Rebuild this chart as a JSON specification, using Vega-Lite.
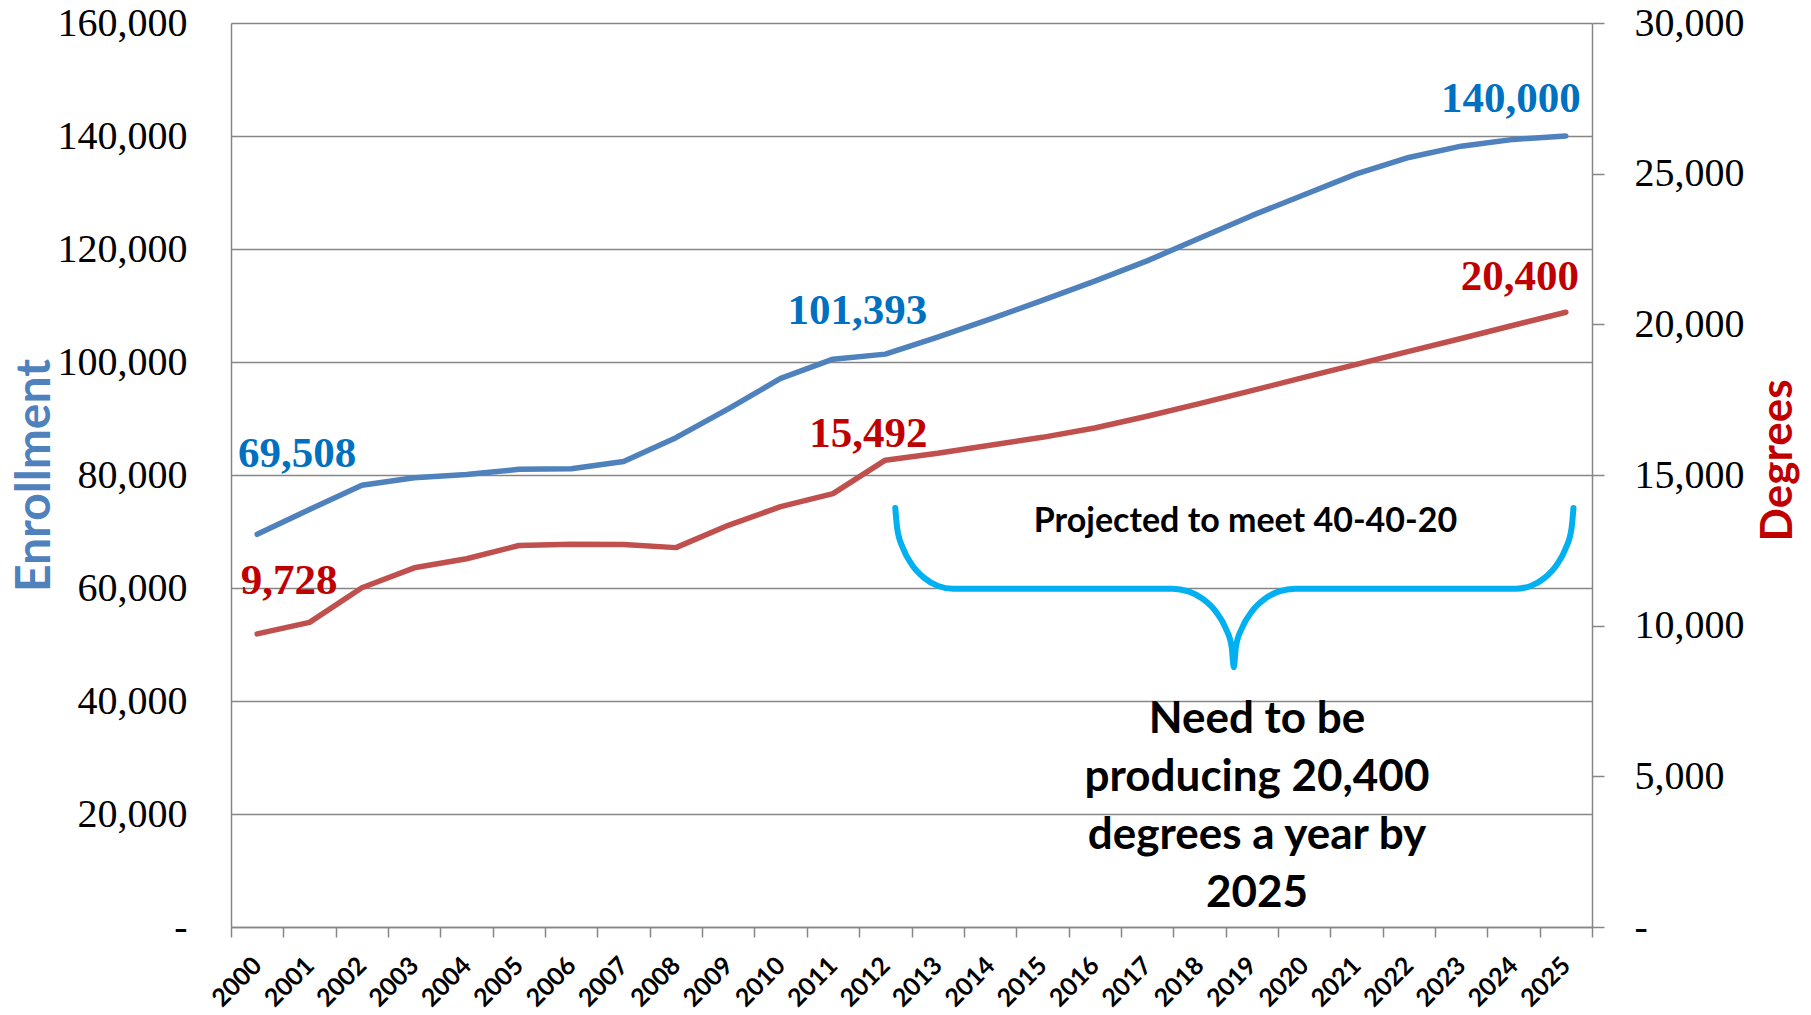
{
  "$schema": "https://vega.github.io/schema/vega-lite/v6.json",
  "autosize": "none",
  "width": 1361,
  "height": 904,
  "padding": {"left": 231, "top": 23, "right": 219, "bottom": 88},
  "background": "white",
  "config": {"view": {"stroke": null}, "font": "Lato"},
  "datasets": {
    "series": [
      {"year": 2000, "enrollment": 69508, "degrees": 9728},
      {"year": 2001, "enrollment": 73900, "degrees": 10110},
      {"year": 2002, "enrollment": 78200, "degrees": 11260},
      {"year": 2003, "enrollment": 79500, "degrees": 11920},
      {"year": 2004, "enrollment": 80100, "degrees": 12220},
      {"year": 2005, "enrollment": 81000, "degrees": 12660},
      {"year": 2006, "enrollment": 81100, "degrees": 12700},
      {"year": 2007, "enrollment": 82400, "degrees": 12690},
      {"year": 2008, "enrollment": 86600, "degrees": 12590},
      {"year": 2009, "enrollment": 91700, "degrees": 13330},
      {"year": 2010, "enrollment": 97100, "degrees": 13950},
      {"year": 2011, "enrollment": 100500, "degrees": 14380},
      {"year": 2012, "enrollment": 101393, "degrees": 15492},
      {"year": 2013, "enrollment": 104400, "degrees": 15720},
      {"year": 2014, "enrollment": 107600, "degrees": 15990},
      {"year": 2015, "enrollment": 110900, "degrees": 16250},
      {"year": 2016, "enrollment": 114300, "degrees": 16560},
      {"year": 2017, "enrollment": 117900, "degrees": 16950},
      {"year": 2018, "enrollment": 121900, "degrees": 17370},
      {"year": 2019, "enrollment": 125900, "degrees": 17800},
      {"year": 2020, "enrollment": 129600, "degrees": 18240},
      {"year": 2021, "enrollment": 133300, "degrees": 18670},
      {"year": 2022, "enrollment": 136200, "degrees": 19100},
      {"year": 2023, "enrollment": 138200, "degrees": 19530},
      {"year": 2024, "enrollment": 139400, "degrees": 19970},
      {"year": 2025, "enrollment": 140000, "degrees": 20400}
    ],
    "brace": [
      {"t": 2012.190, "v": 74175},
      {"t": 2012.228, "v": 70477},
      {"t": 2012.338, "v": 67024},
      {"t": 2012.513, "v": 64061},
      {"t": 2012.742, "v": 61792},
      {"t": 2013.007, "v": 60362},
      {"t": 2013.294, "v": 59872},
      {"t": 2017.487, "v": 59872},
      {"t": 2017.790, "v": 59402},
      {"t": 2018.072, "v": 58012},
      {"t": 2018.315, "v": 55805},
      {"t": 2018.500, "v": 52924},
      {"t": 2018.617, "v": 49573},
      {"t": 2018.657, "v": 45977},
      {"t": 2018.697, "v": 49573},
      {"t": 2018.814, "v": 52924},
      {"t": 2018.999, "v": 55805},
      {"t": 2019.242, "v": 58012},
      {"t": 2019.524, "v": 59402},
      {"t": 2019.827, "v": 59872},
      {"t": 2024.042, "v": 59872},
      {"t": 2024.327, "v": 60362},
      {"t": 2024.594, "v": 61792},
      {"t": 2024.823, "v": 64061},
      {"t": 2024.998, "v": 67024},
      {"t": 2025.108, "v": 70477},
      {"t": 2025.146, "v": 74175}
    ]
  },
  "resolve": {"scale": {"x": "independent", "y": "independent"}},
  "layer": [
    {
      "data": {"name": "series"},
      "encoding": {
        "x": {
          "field": "year",
          "type": "ordinal",
          "bandPosition": 0.5,
          "scale": {"type": "band", "paddingInner": 0, "paddingOuter": 0},
          "axis": {
            "title": null,
            "grid": false,
            "labelAngle": -45,
            "labelAlign": "right",
            "labelBaseline": "middle",
            "labelFont": "Lato",
            "labelFontWeight": "bold",
            "labelFontSize": 25,
            "labelColor": "#000000",
            "labelPadding": 24,
            "labelOverlap": false,
            "tickBand": "extent",
            "tickSize": 10,
            "tickColor": "#868686",
            "tickWidth": 1.5,
            "domainColor": "#868686",
            "domainWidth": 1.5
          }
        },
        "y": {
          "field": "enrollment",
          "type": "quantitative",
          "scale": {"domain": [0, 160000], "nice": false},
          "axis": {
            "orient": "left",
            "title": "Enrollment",
            "titleFont": "Lato",
            "titleFontWeight": "bold",
            "titleFontSize": 48,
            "titleColor": "#4F81BD",
            "titleAngle": 270,
            "titlePadding": -2,
            "values": [0, 20000, 40000, 60000, 80000, 100000, 120000, 140000, 160000],
            "labelExpr": "datum.value === 0 ? '-\u00a0\u00a0\u00a0' : format(datum.value, ',')",
            "labelFont": "Liberation Serif",
            "labelFontSize": 40,
            "labelColor": "#000000",
            "labelPadding": 44,
            "labelFlush": false,
            "labelOverlap": false,
            "ticks": false,
            "domainColor": "#868686",
            "domainWidth": 1.5,
            "grid": true,
            "gridColor": "#868686",
            "gridWidth": 1.5
          }
        }
      },
      "layer": [
        {"mark": {"type": "line", "color": "#4F81BD", "strokeWidth": 5.5, "strokeCap": "round", "strokeJoin": "round"}},
        {
          "transform": [{"filter": "datum.year == 2000"}],
          "mark": {"type": "text", "font": "Liberation Serif", "fontWeight": "bold", "fontSize": 43, "color": "#0070C0", "dx": 40, "dy": -80},
          "encoding": {"text": {"field": "enrollment", "type": "quantitative", "format": ","}}
        },
        {
          "transform": [{"filter": "datum.year == 2012"}],
          "mark": {"type": "text", "font": "Liberation Serif", "fontWeight": "bold", "fontSize": 43, "color": "#0070C0", "dx": -28, "dy": -43},
          "encoding": {"text": {"field": "enrollment", "type": "quantitative", "format": ","}}
        },
        {
          "transform": [{"filter": "datum.year == 2025"}],
          "mark": {"type": "text", "font": "Liberation Serif", "fontWeight": "bold", "fontSize": 43, "color": "#0070C0", "dx": -55, "dy": -37},
          "encoding": {"text": {"field": "enrollment", "type": "quantitative", "format": ","}}
        }
      ]
    },
    {
      "data": {"name": "series"},
      "encoding": {
        "x": {
          "field": "year",
          "type": "ordinal",
          "bandPosition": 0.5,
          "scale": {"type": "band", "paddingInner": 0, "paddingOuter": 0},
          "axis": null
        },
        "y": {
          "field": "degrees",
          "type": "quantitative",
          "scale": {"domain": [0, 30000], "nice": false},
          "axis": {
            "orient": "right",
            "title": "Degrees",
            "titleFont": "Lato",
            "titleFontWeight": "bold",
            "titleFontSize": 44,
            "titleColor": "#C00000",
            "titleAngle": 270,
            "titleBaseline": "top",
            "titleAlign": "center",
            "titleY": 437,
            "titlePadding": 12,
            "values": [0, 5000, 10000, 15000, 20000, 25000, 30000],
            "labelExpr": "datum.value === 0 ? '-' : format(datum.value, ',')",
            "labelFont": "Liberation Serif",
            "labelFontSize": 40,
            "labelColor": "#000000",
            "labelPadding": 30,
            "labelFlush": false,
            "labelOverlap": false,
            "tickSize": 12,
            "tickColor": "#868686",
            "tickWidth": 1.5,
            "domainColor": "#868686",
            "domainWidth": 1.5,
            "grid": false
          }
        }
      },
      "layer": [
        {"mark": {"type": "line", "color": "#C0504D", "strokeWidth": 5.5, "strokeCap": "round", "strokeJoin": "round"}},
        {
          "transform": [{"filter": "datum.year == 2000"}],
          "mark": {"type": "text", "font": "Liberation Serif", "fontWeight": "bold", "fontSize": 43, "color": "#C00000", "dx": 32, "dy": -53},
          "encoding": {"text": {"field": "degrees", "type": "quantitative", "format": ","}}
        },
        {
          "transform": [{"filter": "datum.year == 2012"}],
          "mark": {"type": "text", "font": "Liberation Serif", "fontWeight": "bold", "fontSize": 43, "color": "#C00000", "dx": -17, "dy": -26},
          "encoding": {"text": {"field": "degrees", "type": "quantitative", "format": ","}}
        },
        {
          "transform": [{"filter": "datum.year == 2025"}],
          "mark": {"type": "text", "font": "Liberation Serif", "fontWeight": "bold", "fontSize": 43, "color": "#C00000", "dx": -46, "dy": -35},
          "encoding": {"text": {"field": "degrees", "type": "quantitative", "format": ","}}
        }
      ]
    },
    {
      "layer": [
        {
          "data": {"name": "brace"},
          "mark": {"type": "line", "color": "#00B0F0", "strokeWidth": 6, "strokeCap": "round", "strokeJoin": "round", "interpolate": "monotone"},
          "encoding": {
            "x": {"field": "t", "type": "quantitative", "scale": {"domain": [1999.5, 2025.5], "nice": false, "zero": false}, "axis": null},
            "y": {"field": "v", "type": "quantitative", "scale": {"domain": [0, 160000], "nice": false}, "axis": null}
          }
        },
        {
          "data": {"values": [{}]},
          "mark": {"type": "text", "text": "Projected to meet 40-40-20", "font": "Lato", "fontWeight": "bold", "fontSize": 34, "color": "#000000", "align": "center", "baseline": "middle"},
          "encoding": {
            "x": {"datum": 2018.88, "type": "quantitative", "axis": null},
            "y": {"datum": 71700, "type": "quantitative", "axis": null}
          }
        },
        {
          "data": {"values": [{}]},
          "mark": {"type": "text", "text": ["Need to be", "producing 20,400", "degrees a year by", "2025"], "font": "Lato", "fontWeight": "bold", "fontSize": 44, "lineHeight": 58, "color": "#000000", "align": "center", "baseline": "middle"},
          "encoding": {
            "x": {"datum": 2019.1, "type": "quantitative", "axis": null},
            "y": {"datum": 36580, "type": "quantitative", "axis": null}
          }
        }
      ]
    }
  ]
}
